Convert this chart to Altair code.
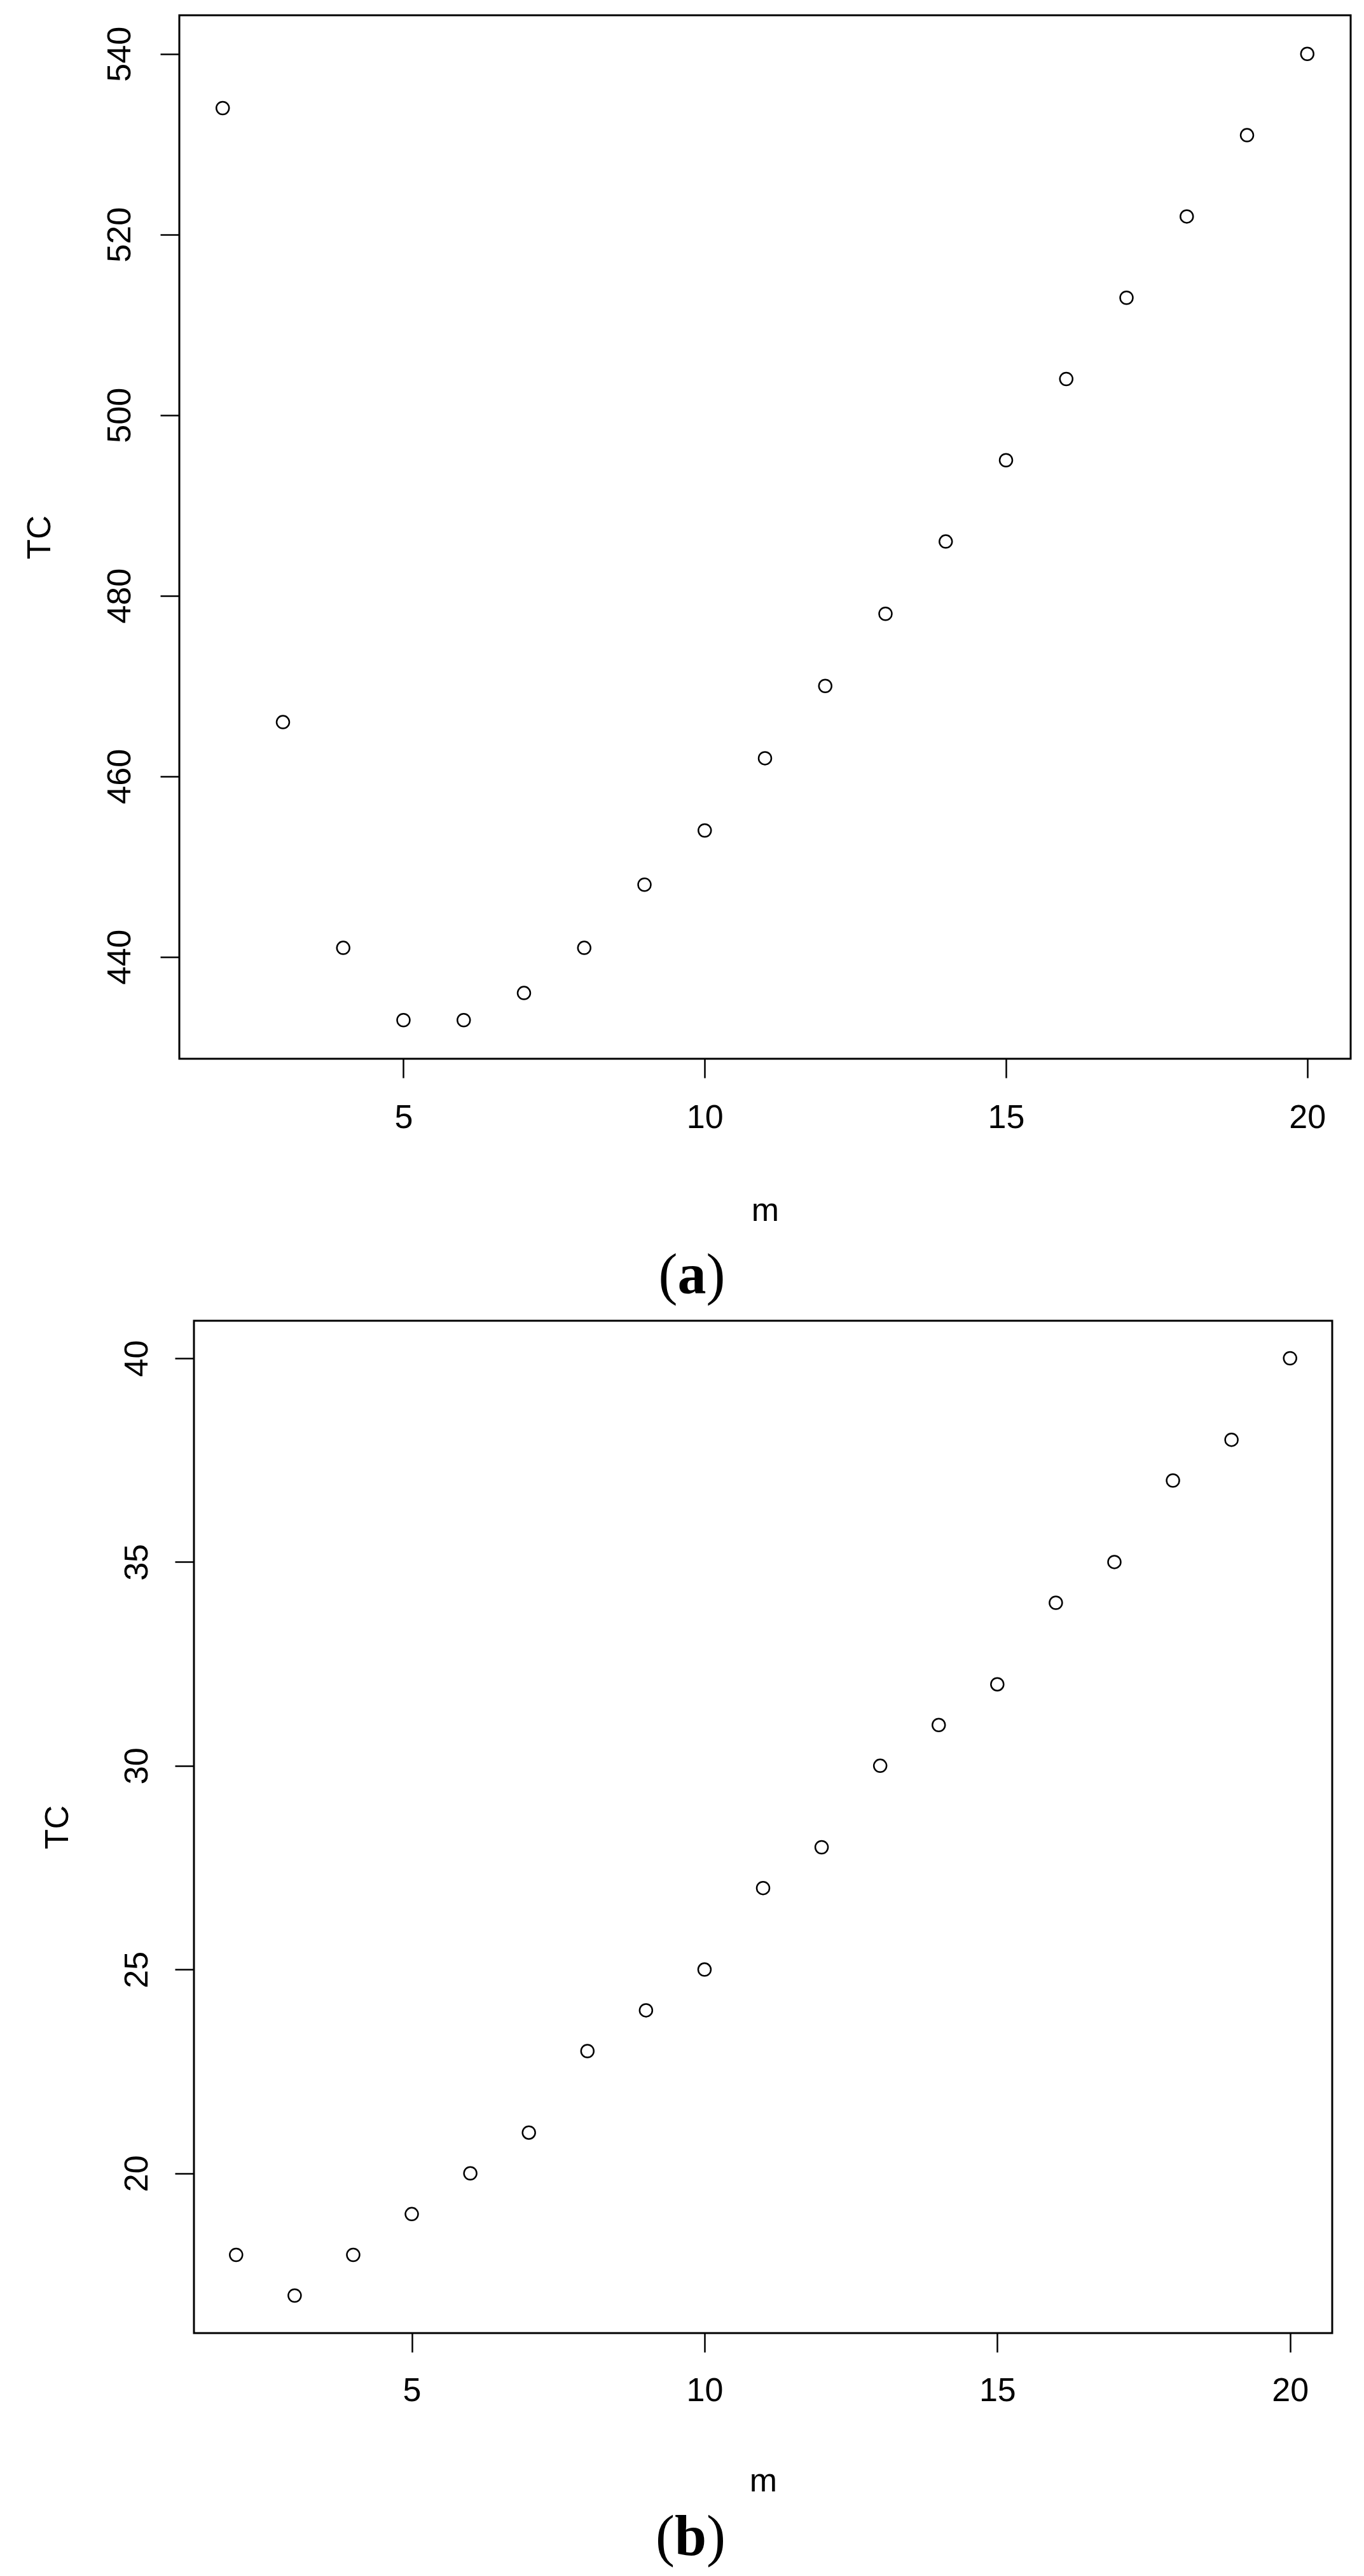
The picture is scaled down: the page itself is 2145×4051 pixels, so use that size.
import altair as alt
import pandas as pd

# ---- data ----
m_values = [2, 3, 4, 5, 6, 7, 8, 9, 10, 11, 12, 13, 14, 15, 16, 17, 18, 19, 20]
tc_a = [534, 466, 441, 433, 433, 436, 441, 448, 454, 462, 470, 478, 486, 495, 504, 513, 522, 531, 540]
tc_b = [18, 17, 18, 19, 20, 21, 23, 24, 25, 27, 28, 30, 31, 32, 34, 35, 37, 38, 40]
x_ticks = [5, 10, 15, 20]
y_ticks_a = [440, 460, 480, 500, 520, 540]
y_ticks_b = [20, 25, 30, 35, 40]
caption_a = ["(", "a", ")"]
caption_b = ["(", "b", ")"]


def r_domain(vals):
    lo, hi = min(vals), max(vals)
    pad = 0.04 * (hi - lo)
    return [lo - pad, hi + pad]


x_domain = r_domain(m_values)
FONT = "Liberation Sans"
SERIF = "Liberation Serif"
FS = 52


def x_axis(lp, tp):
    return alt.Axis(values=x_ticks, title="m", domain=False, grid=False,
                    tickSize=30, tickWidth=2.5, tickColor="black",
                    labelFont=FONT, labelFontSize=FS, labelColor="black",
                    labelPadding=lp, labelBaseline="alphabetic", labelAngle=0,
                    labelFlush=False, labelOverlap=False,
                    titleFont=FONT, titleFontSize=FS, titleFontWeight="normal",
                    titleColor="black", titlePadding=tp, titleBaseline="alphabetic",
                    minExtent=120, maxExtent=120)


def y_axis(vals, lp, tp, offset=0):
    return alt.Axis(values=vals, title="TC", domain=False, grid=False,
                    tickSize=30, tickWidth=2.5, tickColor="black",
                    labelFont=FONT, labelFontSize=FS, labelColor="black",
                    labelPadding=lp, labelAngle=270, labelAlign="center",
                    labelBaseline="alphabetic", labelFlush=False, labelOverlap=False,
                    titleFont=FONT, titleFontSize=FS, titleFontWeight="normal",
                    titleColor="black", titlePadding=tp, titleAngle=270,
                    titleBaseline="alphabetic", minExtent=120, maxExtent=120,
                    offset=offset)


one = pd.DataFrame({"k": [0]})


def caption(letters, cx, base, half):
    o = alt.Chart(one).mark_text(text=letters[0], font=SERIF, fontSize=90, align="right",
                                 baseline="alphabetic", color="black").encode(
        x=alt.value(cx - half), y=alt.value(base))
    l = alt.Chart(one).mark_text(text=letters[1], font=SERIF, fontSize=90, fontWeight="bold",
                                 align="center", baseline="alphabetic", color="black").encode(
        x=alt.value(cx), y=alt.value(base))
    c = alt.Chart(one).mark_text(text=letters[2], font=SERIF, fontSize=90, align="left",
                                 baseline="alphabetic", color="black").encode(
        x=alt.value(cx + half), y=alt.value(base))
    return [o, l, c]


# ---- panel (a) ----
W_A, H_A = 1842, 1641
df_a = pd.DataFrame({"m": m_values, "TC": tc_a})
pts_a = alt.Chart(df_a).mark_point(shape="circle", filled=False, size=400, strokeWidth=2.5,
                                   color="black", opacity=1).encode(
    x=alt.X("m:Q", scale=alt.Scale(domain=x_domain, nice=False, zero=False),
            axis=x_axis(78, 134)),
    y=alt.Y("TC:Q", scale=alt.Scale(domain=r_domain(tc_a), nice=False, zero=False),
            axis=y_axis(y_ticks_a, 48, 84)),
)
panel_a = alt.layer(pts_a, *caption(caption_a, 806, 2010, 22.5)).properties(
    width=W_A, height=H_A,
    view=alt.ViewBackground(stroke="black", strokeWidth=3, fill="white"))

# ---- panel (b) ----
INSET_B = 23
W_B, H_B = 1813, 1592
df_b = pd.DataFrame({"m": m_values, "TC": tc_b})
pts_b = alt.Chart(df_b).mark_point(shape="circle", filled=False, size=400, strokeWidth=2.5,
                                   color="black", opacity=1).encode(
    x=alt.X("m:Q", scale=alt.Scale(domain=x_domain, nice=False, zero=False,
                                   range=[INSET_B, W_B]),
            axis=x_axis(76, 128)),
    y=alt.Y("TC:Q", scale=alt.Scale(domain=r_domain(tc_b), nice=False, zero=False),
            axis=y_axis(y_ticks_b, 44, 78.5, offset=-INSET_B)),
)
box_b = alt.Chart(one).mark_rect(filled=False, stroke="black", strokeWidth=3).encode(
    x=alt.value(INSET_B), x2=alt.value(W_B), y=alt.value(0), y2=alt.value(H_B))
panel_b = alt.layer(box_b, pts_b, *caption(caption_b, 804, 1941, 25)).properties(
    width=W_B, height=H_B,
    view=alt.ViewBackground(stroke="transparent", fill="white"))

chart = alt.vconcat(panel_a, panel_b, spacing=21).properties(
    padding={"left": 26, "top": 14, "right": 8, "bottom": 8},
    background="white",
).configure(font=FONT)

chart.save("out.html", embed_options={"renderer": "svg", "actions": False})
